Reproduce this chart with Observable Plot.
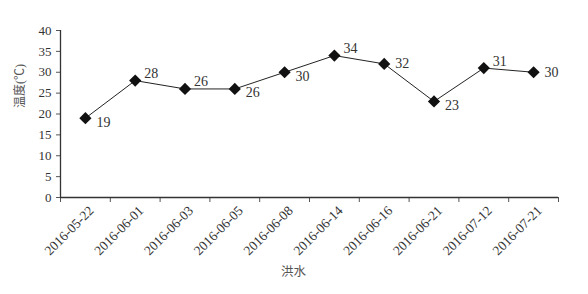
<!DOCTYPE html>
<html>
<head>
<meta charset="utf-8">
<script src="https://cdn.jsdelivr.net/npm/d3@7"></script>
<script src="https://cdn.jsdelivr.net/npm/@observablehq/plot@0.6"></script>
<style>
  html, body { margin: 0; padding: 0; background: #fff; }
  #chart svg { display: block; font-family: "Liberation Serif", "Noto Sans CJK SC", serif; }
  #chart svg text { font-family: "Liberation Serif", "Noto Sans CJK SC", serif; }
  #chart svg text.cjk { font-family: "Noto Sans CJK SC", serif; }
</style>
</head>
<body>
<div id="chart"></div>
<script>
const dates = ["2016-05-22","2016-06-01","2016-06-03","2016-06-05","2016-06-08","2016-06-14","2016-06-16","2016-06-21","2016-07-12","2016-07-21"];
const temps = [19, 28, 26, 26, 30, 34, 32, 23, 31, 30];
const yTicks = [0, 5, 10, 15, 20, 25, 30, 35, 40];
const xLabel = "洪水";
const yLabel = "温度(℃)";

const n = temps.length;
const data = dates.map((d, i) => {
  const cur = temps[i];
  const prev = i > 0 ? temps[i - 1] : null;
  const next = i < n - 1 ? temps[i + 1] : null;
  let pos;
  if (next === null) pos = "mid";
  else if (next > cur) pos = "bottom";
  else if (prev !== null && prev > cur && next < cur) pos = "mid";
  else pos = "top";
  return {i: i + 0.5, date: d, t: cur, pos};
});

const edges = d3.range(0, n + 1);
const centers = data.map(d => d.i);
const txt = "#333";

const chart = Plot.plot({
  width: 588,
  height: 294,
  marginLeft: 60,
  marginRight: 30,
  marginTop: 30,
  marginBottom: 97,
  style: {fontSize: "13px", color: txt, background: "#fff"},
  x: {type: "linear", domain: [0, n]},
  y: {domain: [0, 40]},
  marks: [
    Plot.axisY({ticks: yTicks, tickSize: 4, tickPadding: 5, fontSize: 13, label: null, stroke: "#555"}),
    Plot.text([yLabel], {frameAnchor: "left", dx: -40, dy: -6, rotate: -90, fontSize: 12, fill: "#555", className: "cjk"}),
    Plot.axisX({ticks: edges, tickSize: 5, tickFormat: () => "", label: null, stroke: "#555"}),
    Plot.axisX({ticks: centers, tickSize: 0, tickPadding: 11, dx: 6, tickRotate: -45, tickFormat: v => dates[Math.round(v - 0.5)], fontSize: 13.5, label: null}),
    Plot.text([xLabel], {frameAnchor: "bottom", dx: -16, dy: 78, fontSize: 12.5, fill: "#555", className: "cjk"}),
    Plot.ruleX([0], {stroke: "#333", strokeWidth: 1.3}),
    Plot.ruleY([0], {stroke: "#333", strokeWidth: 1.3}),
    Plot.line(data, {x: "i", y: "t", stroke: "#222", strokeWidth: 1}),
    Plot.dot(data, {x: "i", y: "t", symbol: "diamond2", r: 5.5, fill: "#111", stroke: "none"}),
    Plot.text(data.filter(d => d.pos === "top"), {x: "i", y: "t", text: "t", textAnchor: "start", dx: 9, dy: -7, fontSize: 14, fill: txt}),
    Plot.text(data.filter(d => d.pos === "bottom"), {x: "i", y: "t", text: "t", textAnchor: "start", dx: 11, dy: 4, fontSize: 14, fill: txt}),
    Plot.text(data.filter(d => d.pos === "mid"), {x: "i", y: "t", text: "t", textAnchor: "start", dx: 11, dy: 0, fontSize: 14, fill: txt})
  ]
});
document.getElementById("chart").appendChild(chart);
</script>
</body>
</html>
